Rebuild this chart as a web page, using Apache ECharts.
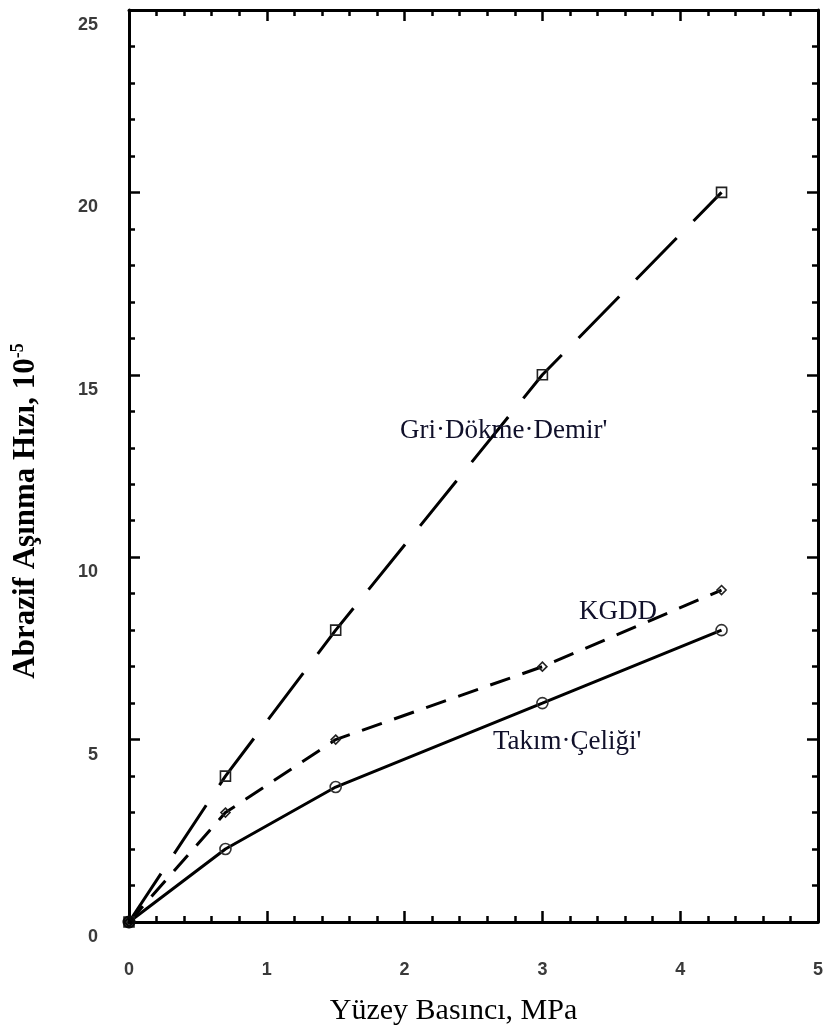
<!DOCTYPE html>
<html>
<head>
<meta charset="utf-8">
<script src="https://cdn.jsdelivr.net/npm/echarts@6/dist/echarts.min.js"></script>
<style>
html,body{margin:0;padding:0;background:#fff;}
#c{width:826px;height:1034px;}
</style>
</head>
<body>
<div id="c"></div>
<script>
// ---- data ----
const pressure = [0, 0.7, 1.5, 3, 4.3];            // Yüzey Basıncı, MPa
const griDokmeDemir = [0, 4.0, 8.0, 15.0, 20.0];   // Gri Dökme Demir
const kgdd = [0, 3.0, 5.0, 7.0, 9.1];              // KGDD
const takimCeligi = [0, 2.0, 3.7, 6.0, 8.0];       // Takım Çeliği
const origin = [[0, 0]];
const xTickLabels = ['0', '1', '2', '3', '4', '5'];
const yTickLabels = ['0', '5', '10', '15', '20', '25'];
const seriesNames = ["Gri·Dökme·Demir'", 'KGDD', "Takım·Çeliği'"];

function pairs(ys) { return pressure.map((x, i) => [x, ys[i]]); }

const chart = echarts.init(document.getElementById('c'), null, {renderer: 'canvas'});

const axisCommon = {
  type: 'value',
  axisLine: {show: true, onZero: false, lineStyle: {color: '#000', width: 3}},
  axisTick: {show: true, inside: true, length: 11, lineStyle: {color: '#000', width: 2.5}},
  minorTick: {show: true, splitNumber: 5, length: 6, lineStyle: {color: '#000', width: 2.5}},
  splitLine: {show: false},
  minorSplitLine: {show: false}
};
const labelStyle = {color: '#3a3a3a', fontFamily: 'Liberation Sans', fontWeight: 'bold', fontSize: 18};

const option = {
  animation: false,
  backgroundColor: '#fff',
  grid: {left: 129, right: 1, top: 10, bottom: 112, containLabel: false},
  xAxis: [
    Object.assign({}, axisCommon, {
      position: 'bottom', min: 0, max: 5, interval: 1,
      axisLabel: Object.assign({}, labelStyle, {margin: 39, formatter: v => xTickLabels[Math.round(v)]}),
      name: 'Yüzey Basıncı, MPa', nameLocation: 'middle', nameGap: 74,
      nameTextStyle: {fontFamily: 'Liberation Serif', fontSize: 30, color: '#000', padding: [0, 40, 0, 0]}
    }),
    Object.assign({}, axisCommon, {
      position: 'top', min: 0, max: 5, interval: 1, axisLabel: {show: false}
    })
  ],
  yAxis: [
    Object.assign({}, axisCommon, {
      position: 'left', min: 0, max: 25, interval: 5,
      axisLabel: Object.assign({}, labelStyle, {margin: 31, verticalAlign: 'top', padding: [6, 0, 0, 0], formatter: v => yTickLabels[Math.round(v / 5)]}),
      name: '{a|Abrazif Aşınma Hızı, 10}{s|-5}', nameLocation: 'middle', nameGap: 86, nameRotate: 90,
      nameTextStyle: {
        padding: [0, 90, 0, 0],
        rich: {
          a: {fontFamily: 'Liberation Serif', fontWeight: 'bold', fontSize: 31, color: '#000', lineHeight: 34},
          s: {fontFamily: 'Liberation Serif', fontWeight: 'bold', fontSize: 18, color: '#000', verticalAlign: 'top', padding: [0, 0, 14, 0]}
        }
      }
    }),
    Object.assign({}, axisCommon, {
      position: 'right', min: 0, max: 25, interval: 5, axisLabel: {show: false}
    })
  ],
  series: [
    {
      name: seriesNames[0], type: 'line', data: pairs(griDokmeDemir),
      lineStyle: {color: '#000', width: 3, type: [58, 24]},
      symbol: 'rect', symbolSize: 10,
      itemStyle: {color: 'rgba(255,255,255,0)', borderColor: '#222', borderWidth: 1.6},
      z: 3
    },
    {
      name: seriesNames[1], type: 'line', data: pairs(kgdd),
      lineStyle: {color: '#000', width: 3, type: [21, 13]},
      symbol: 'diamond', symbolSize: 9,
      itemStyle: {color: 'rgba(255,255,255,0)', borderColor: '#222', borderWidth: 1.6},
      z: 3
    },
    {
      name: seriesNames[2], type: 'line', data: pairs(takimCeligi),
      lineStyle: {color: '#000', width: 3, type: 'solid'},
      symbol: 'circle', symbolSize: 11,
      itemStyle: {color: 'rgba(255,255,255,0)', borderColor: '#333', borderWidth: 1.6},
      z: 3
    },
    {
      type: 'scatter', data: origin, symbol: 'circle', symbolSize: 13,
      itemStyle: {color: '#000'}, z: 5
    }
  ],
  graphic: [
    {type: 'text', left: 400, top: 417, z: 10,
     style: {text: seriesNames[0], font: '27px "Liberation Serif"', fill: '#10102a'}},
    {type: 'text', left: 579, top: 598, z: 10,
     style: {text: seriesNames[1], font: '27px "Liberation Serif"', fill: '#10102a'}},
    {type: 'text', left: 493, top: 728, z: 10,
     style: {text: seriesNames[2], font: '27px "Liberation Serif"', fill: '#10102a'}}
  ]
};
chart.setOption(option);
</script>
</body>
</html>
